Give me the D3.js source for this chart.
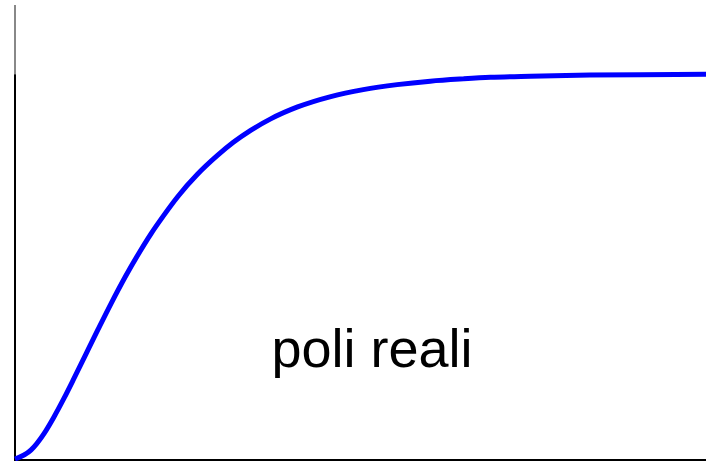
<!DOCTYPE html>
<html>
<head>
<meta charset="utf-8">
<script src="https://cdn.jsdelivr.net/npm/d3@7"></script>
<style>
  html, body { margin: 0; padding: 0; background: #fff; }
  svg { display: block; }
</style>
</head>
<body>
<svg id="chart" width="706" height="461"></svg>
<script>
// step response (time in arbitrary units, output normalised)
const tValues = [0, 0.23, 0.42, 0.56, 0.71, 0.85, 1.03, 1.20, 1.39, 1.60, 1.78, 1.97, 2.14, 2.36,
                 2.64, 2.93, 3.16, 3.41, 3.70, 4.09, 4.57, 5.04, 5.53, 6.01, 6.49, 6.88, 7.46, 8.32, 9.05, 10];
const yValues = [0, 0.023, 0.066, 0.108, 0.158, 0.208, 0.274, 0.336, 0.404, 0.475, 0.531, 0.586, 0.630, 0.683,
                 0.740, 0.789, 0.823, 0.854, 0.884, 0.915, 0.942, 0.960, 0.973, 0.982, 0.988, 0.992, 0.995, 0.998, 0.999, 1.0];
const label = "poli reali";

(() => {
  const svg = d3.select("#chart");
  const W = 706, H = 461;
  const M = { left: 15, right: 0, top: 5, bottom: 2 };

  const xScale = d3.scaleLinear().domain([0, 10]).range([M.left, W - M.right]);
  const yScale = d3.scaleLinear().domain([0, 1.18]).range([459, M.top]);

  // left axis: grey above the final value, black below
  svg.append("line")
    .attr("x1", M.left).attr("x2", M.left)
    .attr("y1", yScale(1.18)).attr("y2", yScale(1))
    .attr("stroke", "#888").attr("stroke-width", 2);
  svg.append("line")
    .attr("x1", M.left).attr("x2", M.left)
    .attr("y1", yScale(1)).attr("y2", H)
    .attr("stroke", "#000").attr("stroke-width", 2);

  // bottom axis
  svg.append("line")
    .attr("x1", M.left - 1).attr("x2", W)
    .attr("y1", 460).attr("y2", 460)
    .attr("stroke", "#000").attr("stroke-width", 2);

  // curve
  const line = d3.line()
    .x((_, i) => xScale(tValues[i]))
    .y(d => yScale(d))
    .curve(d3.curveMonotoneX);
  svg.append("path").datum(yValues)
    .attr("fill", "none")
    .attr("stroke", "#0000ff")
    .attr("stroke-width", 5)
    .attr("stroke-linejoin", "round")
    .attr("d", line);

  // label
  svg.append("text")
    .attr("x", 372).attr("y", 367)
    .attr("text-anchor", "middle")
    .attr("font-family", "'Liberation Sans', Arial, Helvetica, sans-serif")
    .attr("font-size", 54)
    .attr("fill", "#000")
    .text(label);
})();
</script>
</body>
</html>
